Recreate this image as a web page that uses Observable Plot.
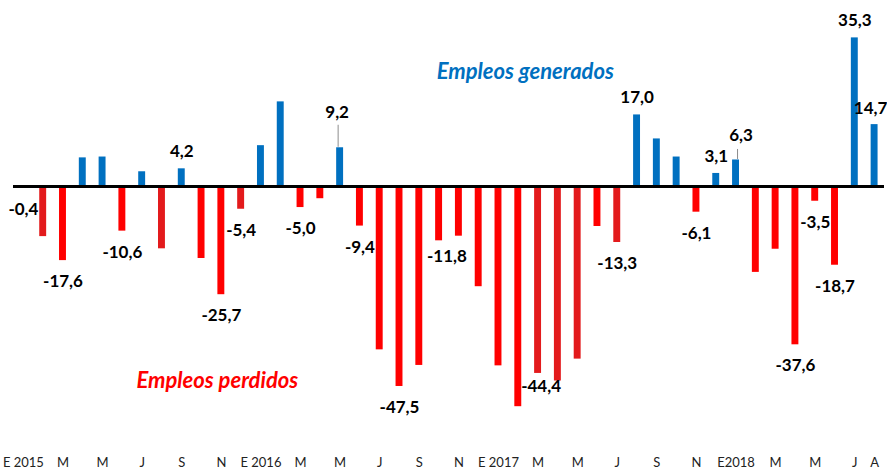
<!DOCTYPE html>
<html>
<head>
<meta charset="utf-8">
<script src="https://cdn.jsdelivr.net/npm/d3@7"></script>
<script src="https://cdn.jsdelivr.net/npm/@observablehq/plot@0.6"></script>
<style>
  html, body { margin: 0; padding: 0; background: #fff; }
  #chart svg { display: block; }
</style>
</head>
<body>
<div id="chart"></div>
<script>
// ---- data ----
const months = [
  "2015-01","2015-02","2015-03","2015-04","2015-05","2015-06","2015-07","2015-08","2015-09","2015-10","2015-11","2015-12",
  "2016-01","2016-02","2016-03","2016-04","2016-05","2016-06","2016-07","2016-08","2016-09","2016-10","2016-11","2016-12",
  "2017-01","2017-02","2017-03","2017-04","2017-05","2017-06","2017-07","2017-08","2017-09","2017-10","2017-11","2017-12",
  "2018-01","2018-02","2018-03","2018-04","2018-05","2018-06","2018-07","2018-08"
];
const values = [
  -0.4, -11.9, -17.6, 6.8, 7.0, -10.6, 3.5, -14.8, 4.2, -17.1, -25.7, -5.4,
  9.7, 20.1, -5.0, -2.9, 9.2, -9.4, -38.8, -47.5, -42.5, -12.9, -11.8, -23.8,
  -42.6, -52.3, -44.4, -46.2, -41.0, -9.5, -13.3, 17.0, 11.3, 7.0, -6.1, 3.1,
  6.3, -20.4, -14.9, -37.6, -3.5, -18.7, 35.3, 14.7
];
const labeledMonths = [
  "2015-01","2015-03","2015-06","2015-09","2015-11","2015-12",
  "2016-03","2016-05","2016-06","2016-08","2016-11",
  "2017-03","2017-07","2017-08","2017-11","2017-12",
  "2018-01","2018-04","2018-05","2018-06","2018-07","2018-08"
];
const tickMonths = [
  "2015-01","2015-03","2015-05","2015-07","2015-09","2015-11",
  "2016-01","2016-03","2016-05","2016-07","2016-09","2016-11",
  "2017-01","2017-03","2017-05","2017-07","2017-09","2017-11",
  "2018-01","2018-03","2018-05","2018-07","2018-08"
];
const tickLabels = [
  "E 2015","M","M","J","S","N",
  "E 2016","M","M","J","S","N",
  "E 2017","M","M","J","S","N",
  "E2018","M","M","J","A"
];
const seriesNames = ["Empleos generados", "Empleos perdidos"];

// ---- styling / layout ----
const BLUE = "#0070C0", RED = "#FF0000", DARKRED = "#E31A1C";
const darkMonths = ["2015-02","2015-08","2015-12","2017-03","2017-04","2017-05","2017-07"];
const FONT = "Lato, 'Liberation Sans', sans-serif";
const labelNudge = {
  "2016-11": {dx: -12, dy: 20},
  "2017-03": {dx: 3, dy: 13},
  "2016-05": {dx: -3, dy: -35},
  "2018-01": {dx: 5, dy: -24},
  "2018-08": {dx: -4, dy: -16}
};
const leaders = [{month: "2016-05", px: 23, dx: -2}, {month: "2018-01", px: 11, dx: 1.5}];

const H = 470, MB = 22, MT = 0;
const yDomain = [-62.23, 44.18];
const pxPerUnit = (H - MB - MT) / (yDomain[1] - yDomain[0]);

const data = months.map((m, i) => ({month: m, value: values[i]}));
const byMonth = new Map(data.map(d => [d.month, d]));
const fmt = v => v.toFixed(1).replace(".", ",");
const labels = labeledMonths.map(m => ({...byMonth.get(m), label: fmt(byMonth.get(m).value)}));
const tickMap = new Map(tickMonths.map((m, i) => [m, tickLabels[i]]));

const textCommon = {x: "month", y: "value", text: "label", fontWeight: "bold", fontSize: 17, fill: "#000", fontFamily: FONT};

const marks = [
  Plot.barY(data, {
    x: "month", y: "value",
    fill: d => d.value > 0 ? BLUE : (darkMonths.includes(d.month) ? DARKRED : RED)
  }),
  Plot.ruleY([0], {stroke: "#000", strokeWidth: 3}),
  Plot.text(labels.filter(d => !labelNudge[d.month] && d.value > 0), {...textCommon, dy: -17}),
  Plot.text(labels.filter(d => !labelNudge[d.month] && d.value < 0), {...textCommon, dy: 21}),
  ...Object.entries(labelNudge).map(([m, o]) =>
    Plot.text(labels.filter(d => d.month === m), {...textCommon, dx: o.dx, dy: o.dy})),
  ...leaders.map(l => Plot.link([byMonth.get(l.month)], {
    x1: "month", x2: "month",
    y1: d => d.value + 1 / pxPerUnit,
    y2: d => d.value + l.px / pxPerUnit,
    dx: l.dx, stroke: "#8c8c8c", strokeWidth: 1
  })),
  Plot.text([{month: "2017-02", value: 27.1, label: seriesNames[0]}], {
    x: "month", y: "value", text: "label", dx: 7,
    fill: BLUE, fontWeight: "bold", fontStyle: "italic", fontSize: 22, fontFamily: FONT
  }),
  Plot.text([{month: "2015-11", value: -46.3, label: seriesNames[1]}], {
    x: "month", y: "value", text: "label", dx: -4,
    fill: RED, fontWeight: "bold", fontStyle: "italic", fontSize: 22, fontFamily: FONT
  })
];

const chart = Plot.plot({
  width: 887,
  height: H,
  marginLeft: 13,
  marginRight: 3,
  marginTop: MT,
  marginBottom: MB,
  style: {fontFamily: FONT, fontSize: "13px", color: "#222", background: "#fff", overflow: "visible"},
  x: {
    type: "band",
    domain: months,
    paddingInner: 0.65,
    paddingOuter: 0.325,
    tickSize: 0,
    tickPadding: 9,
    tickFormat: m => tickMap.get(m) ?? "",
    label: null
  },
  y: {domain: yDomain, axis: null},
  color: {type: "identity"},
  marks
});
document.getElementById("chart").appendChild(chart);
</script>
</body>
</html>
